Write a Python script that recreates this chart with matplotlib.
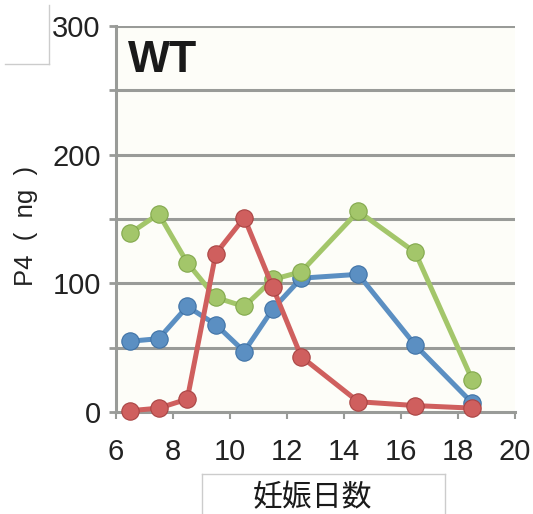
import matplotlib.pyplot as plt
import numpy as np
from matplotlib import font_manager

# 数据
days = [6.5, 7.5, 8.5, 9.5, 10.5, 11.5, 12.5, 14.5, 16.5, 18.5]
blue_vals = [55, 57, 82, 68, 47, 80, 104, 107, 52, 7]
green_vals = [139, 154, 116, 89, 82, 103, 109, 156, 124, 25]
red_vals = [1, 3, 10, 123, 151, 97, 43, 8, 5, 3]

x_ticks = [6, 8, 10, 12, 14, 16, 18, 20]
y_ticks = [0, 100, 200, 300]

names = [f.name for f in font_manager.fontManager.ttflist]
num_font = 'Liberation Sans Narrow' if 'Liberation Sans Narrow' in names else 'Liberation Sans'

fig = plt.figure(figsize=(5.33, 5.14), dpi=100)
ax = fig.add_axes([116 / 533, 1 - 412 / 514, 399 / 533, 386 / 514])
ax.set_facecolor('#fdfdf8')

series = [
    (blue_vals, '#5b8fc2', '#3f72a6'),
    (green_vals, '#a3c66a', '#82a84c'),
    (red_vals, '#cf5f5e', '#a94443'),
]
for vals, col, edge in series:
    ax.plot(days, vals, color=col, linewidth=3.6, marker='o', markersize=12.5,
            markerfacecolor=col, markeredgecolor=edge, markeredgewidth=0.8,
            clip_on=False, zorder=3)

ax.set_xlim(6, 20)
ax.set_ylim(0, 300)

# 网格线
for y in np.arange(50, 301, 50):
    ax.axhline(y, color='#999b98', linewidth=2.2, zorder=1)

ax.set_yticks(y_ticks)
ax.set_yticks(np.arange(0, 301, 50), minor=True)
ax.set_xticks(x_ticks)
ax.tick_params(axis='y', which='both', length=5, width=2, color='#999b98', pad=6)
ax.tick_params(axis='x', which='major', length=5, width=1.5, color='#999b98',
               direction='out', pad=14)
for lab in ax.get_xticklabels() + ax.get_yticklabels():
    lab.set_fontfamily(num_font)
    lab.set_fontsize(21)
    lab.set_color('#222222')

for side in ['top', 'right']:
    ax.spines[side].set_visible(False)
ax.spines['left'].set_color('#999b98')
ax.spines['left'].set_linewidth(2.2)
ax.spines['bottom'].set_color('#999b98')
ax.spines['bottom'].set_linewidth(2.2)

ax.text(0.03, 0.965, 'WT', transform=ax.transAxes, fontsize=32, fontweight='bold',
        family=num_font, va='top', ha='left', color='#1a1a1a')

fig.text(26 / 533, 1 - 226 / 514, 'P4  (  ng  )', rotation=90, fontsize=18.5,
         family='Liberation Sans', ha='center', va='center', color='#222222')

fig.text(312 / 533, 1 - 498 / 514, '妊娠日数', fontsize=21.5,
         family=['Noto Sans CJK JP', 'DejaVu Sans'], ha='center', va='center',
         color='#1a1a1a')

# 文本框边线
fig.add_artist(plt.Line2D([202 / 533, 202 / 533], [0, 1 - 474 / 514],
                          transform=fig.transFigure, color='#cccccc', linewidth=1))
fig.add_artist(plt.Line2D([445 / 533, 445 / 533], [0, 1 - 474 / 514],
                          transform=fig.transFigure, color='#cccccc', linewidth=1))
fig.add_artist(plt.Line2D([202 / 533, 445 / 533], [1 - 474 / 514, 1 - 474 / 514],
                          transform=fig.transFigure, color='#cccccc', linewidth=1))
fig.add_artist(plt.Line2D([49 / 533, 49 / 533], [1 - 5 / 514, 1 - 64 / 514],
                          transform=fig.transFigure, color='#cccccc', linewidth=1))
fig.add_artist(plt.Line2D([5 / 533, 49 / 533], [1 - 64 / 514, 1 - 64 / 514],
                          transform=fig.transFigure, color='#cccccc', linewidth=1))

fig.savefig('out.png', dpi=100)
